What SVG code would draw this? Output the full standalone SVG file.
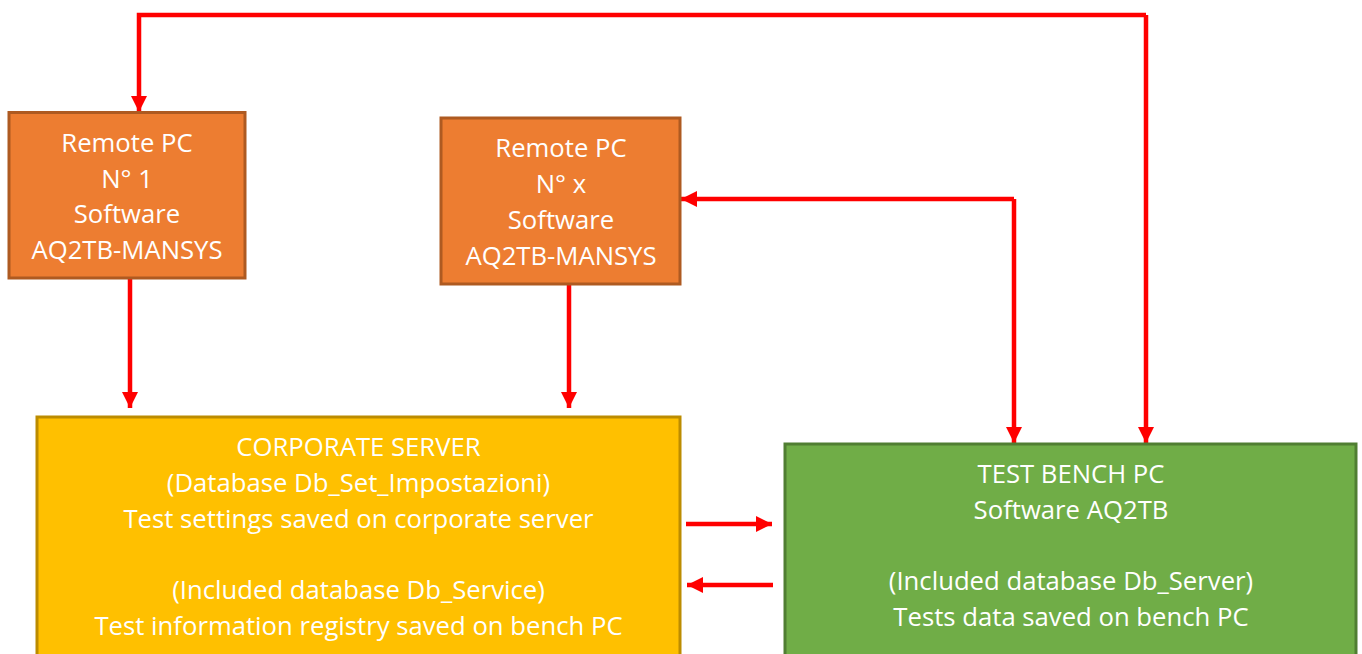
<svg xmlns="http://www.w3.org/2000/svg" width="1362" height="654" viewBox="0 0 1362 654">
<style>
text{font-family:"Open Sans","Noto Sans","Liberation Sans",sans-serif;font-size:25.7px;fill:#fff;text-anchor:middle}
.o{fill:#ed7d31;stroke:#ae5a21;stroke-width:3}
.y{fill:#ffc000;stroke:#bc8c00;stroke-width:3}
.g{fill:#70ad47;stroke:#507e32;stroke-width:3}
.c{fill:none;stroke:#ff0000;stroke-width:4.5}
</style>
<defs>
<marker id="a" markerUnits="userSpaceOnUse" markerWidth="16" markerHeight="16" refX="16" refY="8" orient="auto-start-reverse"><path d="M0 0L16 8L0 16z" fill="#ff0000"/></marker>
</defs>
<rect width="1362" height="654" fill="#fff"/>
<g id="connectors">
<path class="c" d="M1146 15H139V112" marker-end="url(#a)"/>
<path class="c" d="M1146 15V443" marker-end="url(#a)"/>
<path class="c" d="M1014 199H681" marker-end="url(#a)"/>
<path class="c" d="M1014 199V443" marker-end="url(#a)"/>
<path class="c" d="M130 278V408" marker-end="url(#a)"/>
<path class="c" d="M569 284V408" marker-end="url(#a)"/>
<path class="c" d="M686 524H772" marker-end="url(#a)"/>
<path class="c" d="M773 585H687" marker-end="url(#a)"/>
</g>
<g id="remote1"><rect class="o" x="9" y="112.500" width="236" height="165.500"/>
<text x="127" y="152">Remote PC</text><text x="127" y="187.500">N° 1</text><text x="127" y="223">Software</text><text x="127" y="258.500">AQ2TB-MANSYS</text></g>
<g id="remotex"><rect class="o" x="441" y="118" width="239" height="166"/>
<text x="561" y="157">Remote PC</text><text x="561" y="193">N° x</text><text x="561" y="228.500">Software</text><text x="561" y="264.500">AQ2TB-MANSYS</text></g>
<g id="server"><rect class="y" x="37" y="417" width="643" height="240"/>
<text x="358.500" y="456">CORPORATE SERVER</text><text x="358.500" y="492">(Database Db_Set_Impostazioni)</text><text x="358.500" y="528">Test settings saved on corporate server</text><text x="358.500" y="599">(Included database Db_Service)</text><text x="358.500" y="635">Test information registry saved on bench PC</text></g>
<g id="bench"><rect class="g" x="785" y="444" width="571" height="213"/>
<text x="1071" y="483">TEST BENCH PC</text><text x="1071" y="519">Software AQ2TB</text><text x="1071" y="590">(Included database Db_Server)</text><text x="1071" y="626">Tests data saved on bench PC</text></g>
</svg>
